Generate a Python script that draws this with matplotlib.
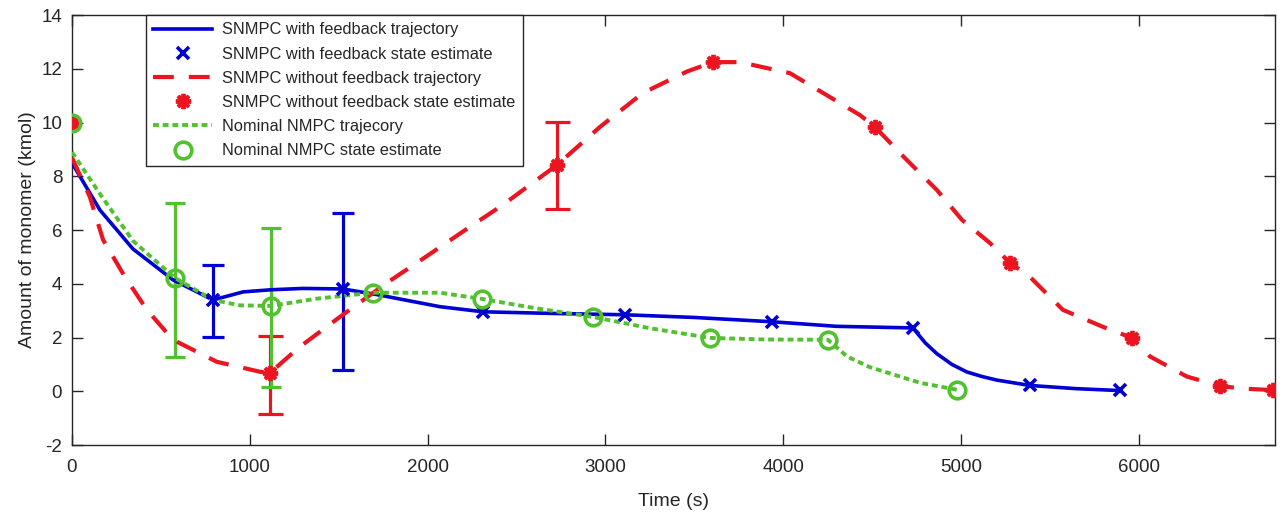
import matplotlib
matplotlib.use("Agg")
import matplotlib.pyplot as plt

plt.rcParams['font.family'] = ['Liberation Sans', 'DejaVu Sans']
plt.rcParams['axes.unicode_minus'] = False

# ---- data ----
# SNMPC with feedback: trajectory
fb_traj_t = [0, 157, 343, 568, 793, 962, 1119, 1300, 1524, 1715, 2070, 2312, 2700, 3110, 3500, 3937, 4300, 4730,
             4800, 4865, 4950, 5034, 5120, 5202, 5388, 5650, 5894]
fb_traj_y = [8.5, 6.75, 5.3, 4.15, 3.4, 3.7, 3.78, 3.83, 3.81, 3.6, 3.15, 2.96, 2.9, 2.85, 2.75, 2.59, 2.42, 2.36,
             1.8, 1.4, 1.0, 0.72, 0.55, 0.42, 0.22, 0.1, 0.03]
# SNMPC with feedback: state estimates
fb_est_t = [0, 793, 1524, 2312, 3110, 3937, 4730, 5388, 5894]
fb_est_y = [10.0, 3.4, 3.81, 2.96, 2.85, 2.59, 2.36, 0.25, 0.05]
fb_err_t = [793, 1524]
fb_err_y = [3.4, 3.81]
fb_err_lo = [2.03, 0.80]
fb_err_hi = [4.71, 6.64]

# SNMPC without feedback: trajectory
nofb_traj_t = [0, 101, 175, 298, 422, 568, 815, 1057, 1114, 1282, 1507, 1772, 2000, 2200, 2424, 2559, 2728, 2970,
               3211, 3459, 3606, 3757, 4038, 4200, 4432, 4516, 4685, 4865, 5006, 5163, 5276, 5388, 5574, 5799,
               5962, 6063, 6271, 6457, 6586, 6755]
nofb_traj_y = [8.7, 7.23, 5.64, 4.26, 3.03, 1.92, 1.1, 0.73, 0.69, 1.66, 2.77, 4.04, 5.05, 5.95, 6.94, 7.6, 8.42,
               9.84, 11.1, 11.9, 12.25, 12.25, 11.84, 11.2, 10.28, 9.84, 8.68, 7.49, 6.38, 5.52, 4.78, 4.26, 3.03,
               2.4, 1.99, 1.3, 0.55, 0.2, 0.1, 0.05]
nofb_est_t = [0, 1114, 2728, 3606, 4516, 5276, 5962, 6457, 6755]
nofb_est_y = [10.0, 0.69, 8.42, 12.25, 9.84, 4.78, 2.0, 0.2, 0.05]
nofb_err_t = [1114, 2728]
nofb_err_y = [0.69, 8.42]
nofb_err_lo = [-0.83, 6.79]
nofb_err_hi = [2.07, 10.02]

# Nominal NMPC: trajectory
nom_traj_t = [0, 157, 343, 579, 793, 945, 1119, 1378, 1693, 2070, 2306, 2600, 2930, 3250, 3588, 3900, 4252,
              4359, 4488, 4770, 4977]
nom_traj_y = [8.9, 7.35, 5.6, 4.22, 3.4, 3.2, 3.18, 3.45, 3.67, 3.67, 3.44, 3.1, 2.77, 2.35, 1.99, 1.93, 1.92,
              1.3, 0.9, 0.32, 0.06]
nom_est_t = [0, 579, 1119, 1693, 2306, 2930, 3588, 4252, 4977]
nom_est_y = [10.0, 4.22, 3.18, 3.67, 3.44, 2.77, 1.99, 1.92, 0.06]
nom_err_t = [579, 1119]
nom_err_y = [4.22, 3.18]
nom_err_lo = [1.29, 0.17]
nom_err_hi = [7.0, 6.08]

x_ticks = [0, 1000, 2000, 3000, 4000, 5000, 6000]
y_ticks = [-2, 0, 2, 4, 6, 8, 10, 12, 14]

labels = ["SNMPC with feedback trajectory",
          "SNMPC with feedback state estimate",
          "SNMPC without feedback trajectory",
          "SNMPC without feedback state estimate",
          "Nominal NMPC trajecory",
          "Nominal NMPC state estimate"]

# ---- styling ----
BLUE = '#0000d2'
RED = '#ea1520'
GREEN = '#52c12f'

fig = plt.figure(figsize=(12.85, 5.2), dpi=100)
ax = fig.add_axes([0.056, 0.144, 0.936, 0.827])

def errs(y, lo, hi):
    return [[a - b for a, b in zip(y, lo)], [b - a for a, b in zip(y, hi)]]

# error bars
ax.errorbar(fb_err_t, fb_err_y, yerr=errs(fb_err_y, fb_err_lo, fb_err_hi), fmt='none',
            ecolor=BLUE, elinewidth=2.3, capsize=8, capthick=2.3, zorder=2)
ax.errorbar(nofb_err_t, nofb_err_y, yerr=errs(nofb_err_y, nofb_err_lo, nofb_err_hi), fmt='none',
            ecolor=RED, elinewidth=2.3, capsize=9, capthick=2.3, zorder=2)
ax.errorbar(nom_err_t, nom_err_y, yerr=errs(nom_err_y, nom_err_lo, nom_err_hi), fmt='none',
            ecolor=GREEN, elinewidth=2.3, capsize=7, capthick=2.3, zorder=2)

h1, = ax.plot(fb_traj_t, fb_traj_y, color=BLUE, lw=2.6, zorder=3)
h2, = ax.plot(fb_est_t, fb_est_y, ls='none', marker='x', color=BLUE, ms=9, mew=2.6, zorder=4)
h3, = ax.plot(nofb_traj_t, nofb_traj_y, color=RED, lw=3.0, dashes=(5, 3.6), zorder=3)
h4, = ax.plot(nofb_est_t, nofb_est_y, ls='none', marker=(8, 2, 0), color=RED, ms=11, mew=2.8, zorder=4)
h5, = ax.plot(nom_traj_t, nom_traj_y, color=GREEN, lw=2.8, dashes=(1.5, 1.0), zorder=3)
h6, = ax.plot(nom_est_t, nom_est_y, ls='none', marker='o', mfc='none', mec=GREEN, ms=12, mew=2.6, zorder=5)

ax.set_xlim(0, 6765)
ax.set_ylim(-2, 14)
ax.set_xticks(x_ticks)
ax.set_yticks(y_ticks)
ax.tick_params(direction='in', length=8, width=1, colors='#262626', labelsize=13.5,
               top=True, right=True)
ax.tick_params(axis='x', pad=10)
ax.tick_params(axis='y', pad=7)
for s in ax.spines.values():
    s.set_color('#262626')
    s.set_linewidth(1.0)

ax.set_xlabel("Time (s)", fontsize=14, color='#262626', labelpad=12)
ax.set_ylabel("Amount of monomer (kmol)", fontsize=14, color='#262626', labelpad=4)

leg = ax.legend([h1, h2, h3, h4, h5, h6], labels, loc='upper left',
                bbox_to_anchor=(0.0615, 1.0), borderaxespad=0, fontsize=11.8,
                handlelength=3.6, handletextpad=0.6, labelspacing=0.56,
                fancybox=False, framealpha=1, edgecolor='#262626', borderpad=0.45)
leg.get_frame().set_linewidth(1.0)
for t in leg.get_texts():
    t.set_color('#262626')

fig.savefig("out.png", dpi=100)
